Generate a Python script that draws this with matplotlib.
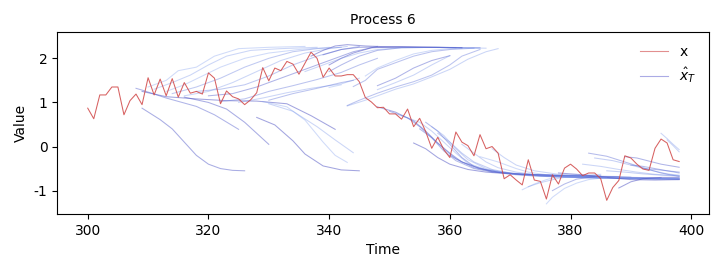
import numpy as np
import matplotlib
matplotlib.use('Agg')
import matplotlib.pyplot as plt

plt.rcParams['axes.unicode_minus'] = False
plt.rcParams['font.size'] = 10

# observed series, t = 300..398
time = list(range(300, 399))
x_obs = [0.87, 0.63, 1.17, 1.17, 1.35, 1.35, 0.72, 1.04, 1.19, 0.95,
         1.56, 1.17, 1.53, 1.15, 1.54, 1.12, 1.45, 1.21, 1.25, 1.19,
         1.67, 1.55, 0.97, 1.26, 1.13, 1.08, 0.95, 1.06, 1.22, 1.79,
         1.49, 1.78, 1.72, 1.93, 1.87, 1.64, 1.89, 2.14, 2.00, 1.57,
         1.78, 1.60, 1.60, 1.63, 1.63, 1.47, 1.11, 1.01, 0.88, 0.89,
         0.74, 0.74, 0.62, 0.85, 0.45, 0.64, 0.34, -0.04, 0.21, -0.07,
         -0.25, 0.33, 0.10, 0.02, -0.21, 0.27, -0.05, 0.00, -0.15, -0.73,
         -0.64, -0.76, -0.87, -0.30, -0.76, -0.79, -1.19, -0.64, -0.85, -0.49,
         -0.40, -0.51, -0.66, -0.60, -0.60, -0.73, -1.22, -0.93, -0.77, -0.21,
         -0.26, -0.40, -0.51, -0.54, -0.04, 0.17, 0.08, -0.30, -0.34]

# forecast trajectories (x_hat_T): time points and values
fc_times = [
    # descending, left part
    [309, 312, 314, 316, 318, 320, 322, 324, 326],
    [308, 309, 313, 318, 321, 325],
    [316, 320, 323, 326, 328, 330],
    [328, 331, 334, 336, 339, 342, 345],
    [309, 313, 318, 323, 328, 333, 337, 341],
    [330, 334, 338, 341, 344],
    [329, 333, 336, 339, 341, 343],
    # rising to the upper plateau
    [310, 313, 315, 318, 321, 325, 330, 336],
    [311, 314, 317, 320, 323, 327, 332, 338],
    [313, 316, 319, 322, 326, 330, 335, 340],
    [314, 318, 322, 326, 330, 334, 338, 342],
    [316, 320, 324, 328, 332, 336, 340, 343],
    [318, 322, 326, 330, 334, 338, 342, 345],
    [320, 324, 328, 332, 336, 340, 344, 348],
    [322, 326, 330, 334, 338, 342, 345, 348],
    [325, 329, 333, 337, 342, 345],
    [330, 334, 338, 342, 344],
    [343, 346, 348, 351, 354, 357, 360, 363, 366, 368],
    [344, 346, 348, 351, 354, 357, 360, 364],
    [348, 351, 354, 357, 360],
    [343, 345, 348, 351, 354, 357, 360, 362, 365],
    [348, 351, 354, 357, 360],
    [340, 342],
    [340, 342, 344, 347, 352, 358, 362],
    [340, 342, 345, 348, 352, 358, 365],
    [337, 339, 341, 343, 346, 350, 356, 362],
    [339, 342, 345, 350, 356, 361],
    [336, 339, 342, 345, 348, 352, 358, 366],
    [346, 348, 351, 354, 357, 360, 365],
    # descending, right part
    [348, 351, 354, 356, 358, 360, 362, 365, 368, 372, 378, 384],
    [350, 353, 355, 357, 359, 361, 364, 367, 371, 376, 382, 388],
    [352, 355, 357, 359, 361, 363, 366, 370, 375, 381, 390],
    [354, 356, 358, 360, 363, 366, 370, 376, 382, 390, 395],
    [356, 358, 360, 362, 364, 367, 371, 376, 382, 390, 398],
    [357, 359, 361, 363, 366, 369, 373, 380, 388, 398],
    [358, 360, 362, 364, 367, 370, 375, 382, 390, 398],
    [360, 362, 365, 368, 372, 378, 386, 394, 398],
    [362, 364, 366, 368, 371, 375, 381, 390, 398],
    [365, 368, 371, 373, 376, 380, 386, 392, 398],
    [367, 369, 371, 374, 378, 384, 392, 398],
    [355, 357, 359, 361, 364, 367, 372, 378, 385],
    [378, 382, 386, 390, 394, 398],
    # rising from below
    [372, 374, 376, 378, 381],
    [373, 375, 378, 381, 385],
    [376, 377, 379, 381, 383, 386],
    [377, 379, 381, 384],
    [388, 390, 392, 395, 398],
    # right edge
    [383, 386, 389, 392, 395, 398],
    [384, 387, 390, 393, 396, 398],
    [382, 385, 388, 391, 394, 398],
    [389, 391, 393, 395, 398],
    [395, 396, 397, 398],
    [396, 397, 398],
    [390, 392, 394, 396, 398],
    [386, 389, 392, 395, 398],
    [392, 394, 396, 398],
]
fc_values = [
    [0.87, 0.61, 0.40, 0.10, -0.20, -0.40, -0.50, -0.54, -0.55],
    [1.32, 1.28, 1.10, 0.91, 0.72, 0.39],
    [1.12, 1.00, 0.85, 0.55, 0.30, 0.05],
    [0.66, 0.49, 0.13, -0.17, -0.44, -0.53, -0.55],
    [1.25, 1.13, 1.08, 1.04, 1.03, 0.97, 0.70, 0.39],
    [0.97, 0.80, 0.45, 0.15, -0.14],
    [1.02, 0.90, 0.60, 0.10, -0.20, -0.36],
    [1.35, 1.50, 1.72, 1.80, 2.05, 2.22, 2.25, 2.27],
    [1.30, 1.45, 1.62, 1.85, 2.05, 2.18, 2.22, 2.25],
    [1.25, 1.40, 1.60, 1.80, 2.00, 2.12, 2.20, 2.25],
    [1.20, 1.35, 1.55, 1.80, 2.00, 2.15, 2.22, 2.25],
    [1.15, 1.25, 1.45, 1.70, 1.95, 2.12, 2.22, 2.27],
    [1.25, 1.30, 1.40, 1.60, 1.85, 2.05, 2.20, 2.27],
    [1.15, 1.20, 1.35, 1.55, 1.75, 1.95, 2.15, 2.27],
    [1.02, 1.08, 1.25, 1.38, 1.52, 1.68, 1.85, 2.00],
    [1.00, 1.10, 1.22, 1.32, 1.42, 1.55],
    [1.05, 1.20, 1.32, 1.45, 1.50],
    [0.92, 1.05, 1.15, 1.30, 1.42, 1.58, 1.75, 1.98, 2.15, 2.22],
    [1.36, 1.50, 1.75, 1.90, 2.05, 2.15, 2.20, 2.23],
    [1.38, 1.55, 1.78, 1.95, 2.06],
    [0.93, 1.05, 1.21, 1.35, 1.47, 1.62, 1.85, 2.05, 2.20],
    [1.29, 1.45, 1.62, 1.85, 2.06],
    [1.34, 1.40],
    [1.85, 2.00, 2.12, 2.24, 2.26, 2.25, 2.24],
    [1.70, 1.85, 2.05, 2.18, 2.24, 2.25, 2.24],
    [2.05, 2.18, 2.28, 2.31, 2.28, 2.26, 2.25, 2.24],
    [2.08, 2.20, 2.25, 2.26, 2.25, 2.24],
    [1.70, 1.85, 2.00, 2.12, 2.20, 2.24, 2.25, 2.23],
    [1.60, 1.78, 1.95, 2.10, 2.18, 2.22, 2.23],
    [0.90, 0.78, 0.58, 0.35, 0.08, -0.15, -0.35, -0.50, -0.58, -0.63, -0.66, -0.68],
    [0.80, 0.65, 0.45, 0.20, -0.05, -0.28, -0.48, -0.57, -0.62, -0.65, -0.67, -0.68],
    [0.70, 0.55, 0.35, 0.10, -0.15, -0.38, -0.52, -0.60, -0.64, -0.67, -0.69],
    [0.08, -0.05, -0.25, -0.40, -0.52, -0.58, -0.62, -0.65, -0.67, -0.70, -0.71],
    [0.55, 0.35, 0.05, -0.25, -0.45, -0.57, -0.64, -0.68, -0.70, -0.72, -0.73],
    [0.45, 0.25, -0.05, -0.30, -0.50, -0.60, -0.66, -0.70, -0.72, -0.74],
    [0.30, 0.10, -0.15, -0.35, -0.52, -0.60, -0.67, -0.71, -0.73, -0.74],
    [-0.20, -0.35, -0.50, -0.58, -0.64, -0.68, -0.71, -0.73, -0.73],
    [0.05, -0.15, -0.35, -0.48, -0.58, -0.65, -0.70, -0.73, -0.75],
    [-0.23, -0.35, -0.50, -0.58, -0.64, -0.67, -0.70, -0.72, -0.73],
    [-0.05, -0.25, -0.42, -0.55, -0.63, -0.68, -0.71, -0.72],
    [0.40, 0.20, -0.10, -0.32, -0.50, -0.58, -0.63, -0.65, -0.66],
    [-0.60, -0.64, -0.70, -0.75, -0.76, -0.75],
    [-0.98, -0.85, -0.75, -0.68, -0.64],
    [-0.91, -0.82, -0.72, -0.66, -0.63],
    [-1.30, -1.15, -0.95, -0.83, -0.75, -0.70],
    [-1.00, -0.85, -0.74, -0.68],
    [-0.94, -0.80, -0.73, -0.70, -0.70],
    [-0.15, -0.22, -0.35, -0.48, -0.60, -0.68],
    [-0.26, -0.32, -0.42, -0.53, -0.62, -0.65],
    [-0.40, -0.45, -0.52, -0.58, -0.63, -0.66],
    [-0.23, -0.26, -0.33, -0.40, -0.47],
    [0.30, 0.18, 0.05, -0.07],
    [0.15, 0.02, -0.12],
    [-0.42, -0.45, -0.50, -0.55, -0.58],
    [-0.55, -0.58, -0.62, -0.65, -0.67],
    [-0.50, -0.52, -0.55, -0.60],
]
# shade of each trajectory (0 = dark, 1 = light)
fc_tone = [0.2, 0.3, 0.2, 0.1, 0.1, 0.8, 0.9,
           0.9, 0.8, 0.9, 0.6, 0.8, 0.6, 0.3, 0.5, 0.8, 0.5,
           0.8, 0.5, 0.3, 0.5, 0.8, 0.9, 0.1, 0.4, 0.1, 0.2, 0.8, 0.9,
           0.2, 0.4, 0.8, 0.1, 0.4, 0.8, 0.7, 0.4, 0.8, 0.9, 0.8, 0.4, 0.1,
           0.9, 0.8, 0.9, 0.4, 0.1,
           0.4, 0.7, 0.8, 0.3, 0.8, 0.8, 0.4, 0.7, 0.5]

fig = plt.figure(figsize=(7.21, 2.72), dpi=100)
ax = fig.add_axes([0.0795, 0.2132, 0.9039, 0.6680])

dark = np.array([0.30, 0.30, 0.75])
light = np.array([0.45, 0.60, 0.95])
for ts, vs, tone in zip(fc_times, fc_values, fc_tone):
    c = dark * (1 - tone) + light * tone
    a = 0.55 - 0.25 * tone
    ax.plot(ts, vs, color=c, alpha=a, lw=0.75)

ax.plot(time, x_obs, color='#d04545', alpha=0.85, lw=0.75)

h1, = ax.plot([], [], color='#d04545', alpha=0.6, lw=0.8, label='x')
h2, = ax.plot([], [], color=(0.35, 0.35, 0.8), alpha=0.5, lw=0.8, label=r'$\hat{x}_T$')
ax.legend(handles=[h1, h2], loc='upper right', frameon=False)

ax.set_xlim(294.96, 402.95)
ax.set_ylim(-1.53, 2.59)
ax.set_xticks([300, 320, 340, 360, 380, 400])
ax.set_yticks([-1, 0, 1, 2])
ax.set_title('Process 6', fontsize=10)
ax.set_xlabel('Time')
ax.set_ylabel('Value')

fig.savefig('out.png', dpi=100)
